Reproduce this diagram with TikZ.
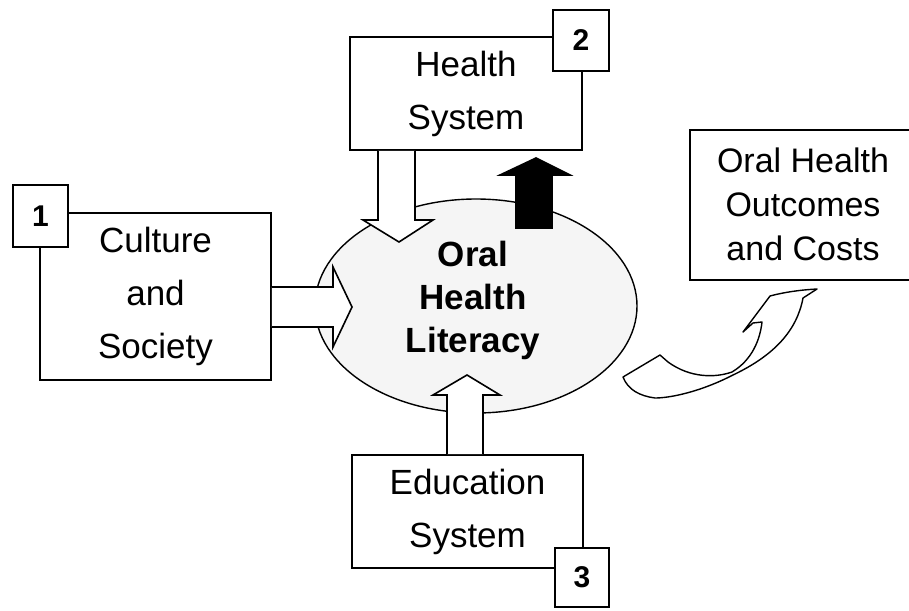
\documentclass[tikz,border=0pt]{standalone}
\usepackage{fontspec}
\setmainfont{Liberation Sans}
\begin{document}
\begin{tikzpicture}[x=1pt,y=-1pt,
  box/.style={draw, line width=1.6pt, fill=white, inner sep=0pt, align=center,
    font=\fontsize{35}{53}\selectfont},
  numbox/.style={draw, line width=2.4pt, fill=white, inner sep=0pt,
    font=\bfseries\fontsize{30}{30}\selectfont},
  blockarrow/.style={draw, line width=1.6pt, fill=white, line join=miter},
  blackarrow/.style={draw, line width=1.6pt, fill=black, line join=miter},
]
\useasboundingbox (0,0) rectangle (909,610);

% central ellipse
\path[draw, line width=1.4pt, fill=black!4] (476,306) ellipse [x radius=161, y radius=107];
\node[align=center, inner sep=0pt, font=\bfseries\fontsize{35}{43}\selectfont] (lit) at (473,300) {Oral\\Health\\Literacy};

% boxes
\node[box, minimum width=231pt, minimum height=167pt] (cult) at (155.5,296.5) {Culture\\and\\Society};
\node[box, minimum width=232pt, minimum height=113pt] (hsys) at (466,93.5) {Health\\System};
\node[box, minimum width=231pt, minimum height=113pt] (edu) at (467.5,511.5) {Education\\System};
\node[align=center, inner sep=0pt, font=\fontsize{34}{44}\selectfont] (outc) at (803,204) {Oral Health\\Outcomes\\and Costs};
\coordinate (otl) at (690,130);
\coordinate (otr) at (909,130);
\coordinate (obl) at (690,280);
\coordinate (obr) at (909,280);
\draw[line width=1.6pt] (otr) -- (otl) -- (obl) -- (obr);

% number boxes
\node[numbox, minimum width=55pt, minimum height=62pt] (n1) at (40.5,216) {1};
\node[numbox, minimum width=56pt, minimum height=61pt] (n2) at (581,40.5) {2};
\node[numbox, minimum width=54pt, minimum height=59pt] (n3) at (582,577.5) {3};

% block arrows
\draw[blockarrow] (cult.east |- 0,287) -- (333,287) -- (333,267) -- (352,307) -- (333,347) -- (333,327) -- (cult.east |- 0,327);
\draw[blockarrow] (378,0 |- hsys.south) -- (378,220) -- (363,220) -- (399,242) -- (433,220) -- (415,220) -- (415,0 |- hsys.south);
\draw[blackarrow] (516,228) -- (516,175) -- (500,175) -- (536,158) -- (570,175) -- (552,175) -- (552,228) -- cycle;
\draw[blockarrow] (447,0 |- edu.north) -- (447,395) -- (433,395) -- (467,375) -- (500,395) -- (483,395) -- (483,0 |- edu.north);

% curved arrow to outcomes
\draw[line width=1.4pt, fill=white, line join=round]
  (623,377) -- (660,355) -- (668,362)
  .. controls (690,378) and (715,378) .. (732,372)
  .. controls (752,360) and (760,340) .. (762,322)
  -- (753,323) -- (743,332)
  -- (770,296) .. controls (785,292) and (800,290) .. (817,289)
  -- (803,298)
  .. controls (797,330) and (775,355) .. (733,375)
  .. controls (700,392) and (670,398) .. (655,398)
  .. controls (640,396) and (628,390) .. (623,377) -- cycle;
\end{tikzpicture}
\end{document}
